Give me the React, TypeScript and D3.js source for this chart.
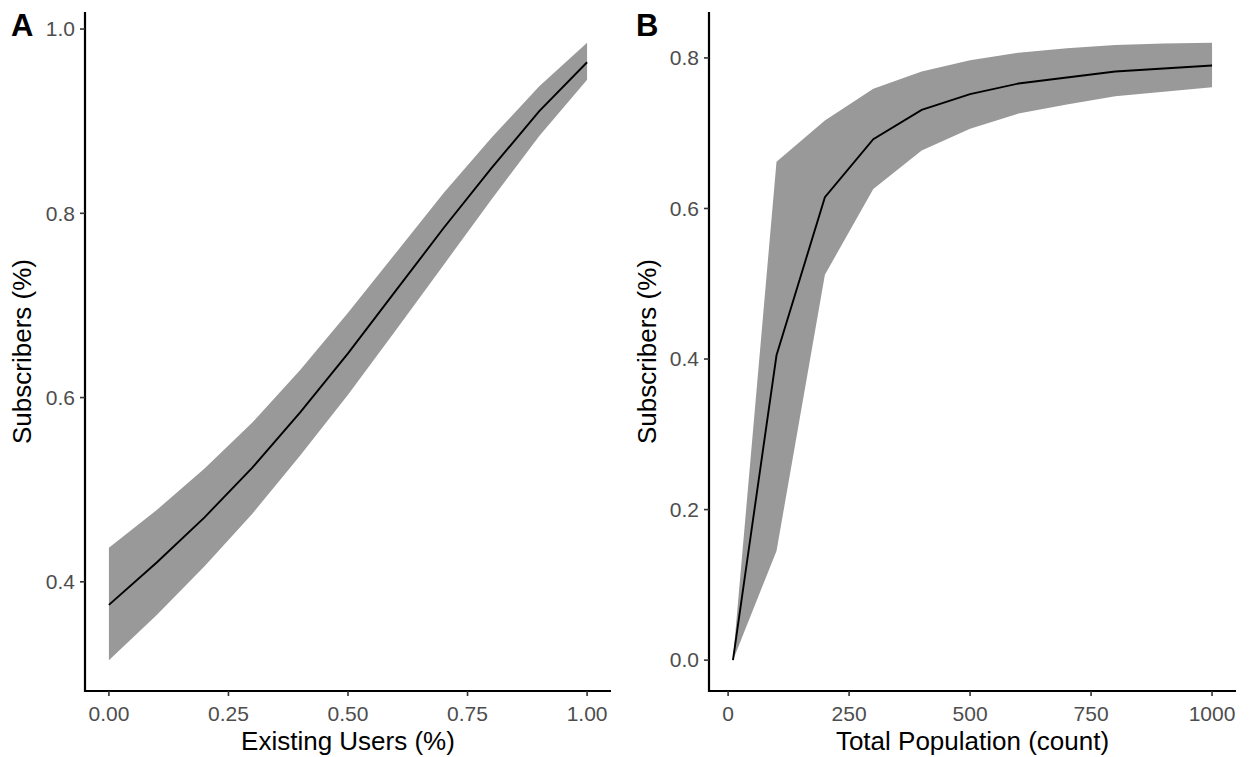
import React from "react";
import * as d3 from "d3";

// Panel A data
const usersX = [0, 0.1, 0.2, 0.3, 0.4, 0.5, 0.6, 0.7, 0.8, 0.9, 1.0];
const usersFit = [0.375, 0.421, 0.47, 0.524, 0.584, 0.648, 0.716, 0.784, 0.849, 0.911, 0.964];
const usersLower = [0.315, 0.364, 0.417, 0.474, 0.537, 0.603, 0.673, 0.744, 0.815, 0.884, 0.945];
const usersUpper = [0.437, 0.478, 0.523, 0.573, 0.63, 0.692, 0.757, 0.822, 0.882, 0.938, 0.985];
const usersXTicks = [0, 0.25, 0.5, 0.75, 1.0];
const usersYTicks = [0.4, 0.6, 0.8, 1.0];

// Panel B data
const popX = [10, 100, 200, 300, 400, 500, 600, 700, 800, 900, 1000];
const popFit = [0.0, 0.405, 0.615, 0.692, 0.731, 0.752, 0.766, 0.774, 0.782, 0.786, 0.79];
const popLower = [0.0, 0.145, 0.512, 0.626, 0.677, 0.706, 0.726, 0.738, 0.749, 0.755, 0.761];
const popUpper = [0.0, 0.662, 0.717, 0.759, 0.782, 0.797, 0.807, 0.813, 0.817, 0.819, 0.82];
const popXTicks = [0, 250, 500, 750, 1000];
const popYTicks = [0.0, 0.2, 0.4, 0.6, 0.8];

const FONT = "'Liberation Sans', Arial, sans-serif";
const TICK_COLOR = "#4D4D4D";
const TOP = 12;
const BOTTOM = 691;

type PanelProps = {
  label: string;
  labelX: number;
  left: number;
  right: number;
  xs: number[];
  fit: number[];
  lower: number[];
  upper: number[];
  xTicks: number[];
  yTicks: number[];
  xFmt: (v: number) => string;
  yFmt: (v: number) => string;
  xTitle: string;
  yTitle: string;
};

function expand(ext: [number, number]): [number, number] {
  const d = (ext[1] - ext[0]) * 0.05;
  return [ext[0] - d, ext[1] + d];
}

function Panel(p: PanelProps) {
  const xExt = d3.extent(p.xs) as [number, number];
  const yExt: [number, number] = [d3.min(p.lower) as number, d3.max(p.upper) as number];
  const x = d3.scaleLinear().domain(expand(xExt)).range([p.left, p.right]);
  const y = d3.scaleLinear().domain(expand(yExt)).range([BOTTOM, TOP]);
  const idx = p.xs.map((_, i) => i);
  const area = d3
    .area<number>()
    .x((i) => x(p.xs[i]))
    .y0((i) => y(p.lower[i]))
    .y1((i) => y(p.upper[i]));
  const line = d3
    .line<number>()
    .x((i) => x(p.xs[i]))
    .y((i) => y(p.fit[i]));
  const midY = (TOP + BOTTOM) / 2;
  const midX = (p.left + p.right) / 2;
  return (
    <g>
      <path d={area(idx) || ""} fill="#999999" stroke="none" />
      <path d={line(idx) || ""} fill="none" stroke="#000" strokeWidth={1.9} />
      {/* axes */}
      <line x1={p.left} x2={p.left} y1={TOP} y2={BOTTOM + 1} stroke="#000" strokeWidth={2.2} />
      <line x1={p.left - 1} x2={p.right} y1={BOTTOM} y2={BOTTOM} stroke="#000" strokeWidth={2.2} />
      {p.yTicks.map((t) => (
        <g key={"y" + t}>
          <line x1={p.left - 5} x2={p.left} y1={y(t)} y2={y(t)} stroke="#333" strokeWidth={1.6} />
          <text
            x={p.left - 10}
            y={y(t)}
            dy="0.35em"
            textAnchor="end"
            fontSize={21}
            fill={TICK_COLOR}
            fontFamily={FONT}
          >
            {p.yFmt(t)}
          </text>
        </g>
      ))}
      {p.xTicks.map((t) => (
        <g key={"x" + t}>
          <line x1={x(t)} x2={x(t)} y1={BOTTOM} y2={BOTTOM + 5} stroke="#333" strokeWidth={1.6} />
          <text
            x={x(t)}
            y={BOTTOM + 30}
            textAnchor="middle"
            fontSize={21}
            fill={TICK_COLOR}
            fontFamily={FONT}
          >
            {p.xFmt(t)}
          </text>
        </g>
      ))}
      <text x={midX} y={750} textAnchor="middle" fontSize={26} fill="#000" fontFamily={FONT}>
        {p.xTitle}
      </text>
      <text
        transform={`translate(${p.labelX + 20},${midY}) rotate(-90)`}
        textAnchor="middle"
        fontSize={26}
        fill="#000"
        fontFamily={FONT}
      >
        {p.yTitle}
      </text>
      <text x={p.labelX} y={36} fontSize={31} fontWeight="bold" fill="#000" fontFamily={FONT}>
        {p.label}
      </text>
    </g>
  );
}

export default function App() {
  const f2 = d3.format(".2f");
  const f1 = d3.format(".1f");
  const f0 = d3.format("d");
  return (
    <svg
      width={1251}
      height={757}
      style={{ position: "absolute", left: 0, top: 0, background: "#fff" }}
    >
      <rect width={1251} height={757} fill="#fff" />
      <Panel
        label="A"
        labelX={11}
        left={85}
        right={611}
        xs={usersX}
        fit={usersFit}
        lower={usersLower}
        upper={usersUpper}
        xTicks={usersXTicks}
        yTicks={usersYTicks}
        xFmt={f2}
        yFmt={f1}
        xTitle="Existing Users (%)"
        yTitle="Subscribers (%)"
      />
      <Panel
        label="B"
        labelX={636}
        left={709}
        right={1236}
        xs={popX}
        fit={popFit}
        lower={popLower}
        upper={popUpper}
        xTicks={popXTicks}
        yTicks={popYTicks}
        xFmt={f0}
        yFmt={f1}
        xTitle="Total Population (count)"
        yTitle="Subscribers (%)"
      />
    </svg>
  );
}
